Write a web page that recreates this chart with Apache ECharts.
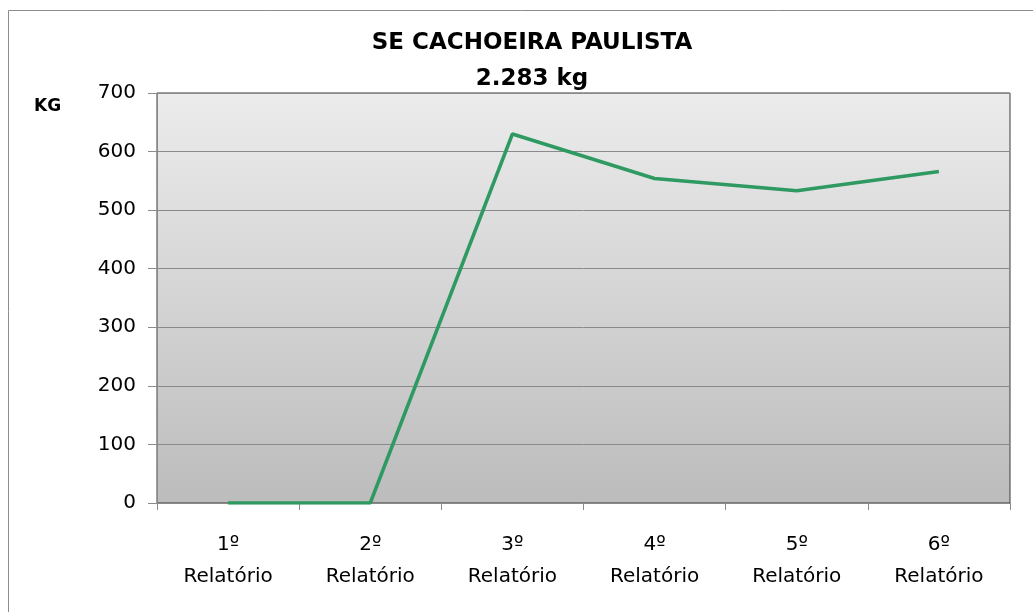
<!DOCTYPE html>
<html lang="pt">
<head>
<meta charset="UTF-8">
<title>SE Cachoeira Paulista</title>
<script src="https://cdn.jsdelivr.net/npm/echarts@6/dist/echarts.min.js"></script>
<style>
  html, body { margin: 0; padding: 0; background: #fff; }
  #main { width: 1033px; height: 612px; }
</style>
</head>
<body>
<div id="main"></div>
<script>
// dados
var categorias = ['1º\nRelatório', '2º\nRelatório', '3º\nRelatório', '4º\nRelatório', '5º\nRelatório', '6º\nRelatório'];
var valores = [0, 0, 630, 554, 533, 566];
var ticksY = [0, 100, 200, 300, 400, 500, 600, 700];

var chart = echarts.init(document.getElementById('main'));
var fonte = '"DejaVu Sans", Verdana, sans-serif';

var option = {
    backgroundColor: '#fff',
    animation: false,
    title: {
        text: 'SE CACHOEIRA PAULISTA\n2.283 kg',
        left: 527,
        textAlign: 'center',
        top: 20,
        textStyle: {
            fontFamily: fonte,
            fontWeight: 'bold',
            fontSize: 23,
            lineHeight: 36,
            color: '#000'
        }
    },
    graphic: [
        { type: 'rect', shape: { x: 8.5, y: 10.5, width: 1040, height: 620 },
          style: { fill: 'none', stroke: '#8c8c8c', lineWidth: 1 }, z: -1 },
        { type: 'text', left: 34, top: 98,
          style: { text: 'KG', font: 'bold 17px ' + fonte, fill: '#000' } }
    ],
    grid: {
        left: 157, right: 23, top: 93, bottom: 109,
        show: true,
        borderColor: '#3a3a3a',
        borderWidth: 1,
        backgroundColor: {
            type: 'linear', x: 0, y: 0, x2: 0, y2: 1,
            colorStops: [
                { offset: 0, color: '#ececec' },
                { offset: 1, color: '#bcbcbc' }
            ]
        }
    },
    xAxis: {
        type: 'category',
        data: categorias,
        boundaryGap: true,
        axisLine: { show: true, lineStyle: { color: '#8a8a8a', width: 1 } },
        axisTick: { show: true, length: 7, lineStyle: { color: '#8a8a8a' } },
        axisLabel: {
            margin: 26,
            fontFamily: fonte,
            fontSize: 20,
            lineHeight: 32,
            color: '#000',
            interval: 0
        },
        splitLine: { show: false }
    },
    yAxis: {
        type: 'value',
        min: 0, max: 700, interval: 100,
        axisLine: { show: true, lineStyle: { color: '#8a8a8a' } },
        axisTick: { show: true, length: 9, lineStyle: { color: '#8a8a8a' } },
        axisLabel: {
            margin: 21,
            fontFamily: fonte,
            fontSize: 20,
            color: '#000',
            formatter: function (v) { return ticksY.indexOf(v) >= 0 ? String(v) : ''; }
        },
        splitLine: { lineStyle: { color: '#8a8a8a', width: 1 } }
    },
    series: [{
        type: 'line',
        data: valores,
        symbol: 'none',
        lineStyle: { color: '#2e9a62', width: 3.5 },
        itemStyle: { color: '#2e9a62' }
    }]
};

chart.setOption(option);
</script>
</body>
</html>
